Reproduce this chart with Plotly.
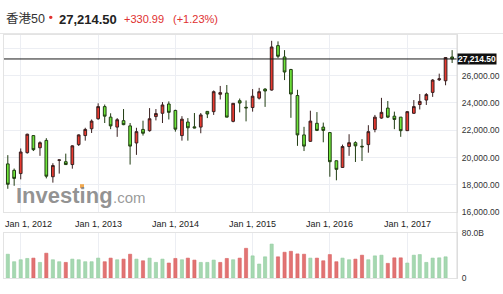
import plotly.graph_objects as go
import pandas as pd

# ---- data (monthly candles, Nov 2011 - Aug 2017) ----
months = pd.date_range("2011-11-01", "2017-08-01", freq="MS")
opens = [19540, 19070, 18830, 20360, 21610, 20720, 21260, 18600, 19800, 19700, 19490, 20950,
         21610, 22110, 22840, 23730, 22960, 22230, 22700, 22320, 21070, 22060, 21970, 23000,
         23240, 23920, 23450, 21610, 22600, 22250, 22230, 23380, 23360, 24630, 24720, 22650,
         24160, 23680, 23660, 24350, 25010, 24940, 28190, 27360, 26440, 24540, 21660, 21190,
         22510, 22230, 21830, 19770, 19280, 20810, 21090, 20830, 20950, 22060, 22890, 23620,
         23030, 22960, 21970, 23240, 23880, 24210, 24770, 25690, 25620, 27360]
highs = [20180, 19200, 20670, 21750, 21640, 21190, 21420, 19590, 19850, 20290, 20900, 21700,
         22180, 22790, 23970, 23880, 23240, 22890, 23550, 22530, 22180, 22700, 23620, 23550,
         24060, 24110, 23500, 23030, 22890, 23260, 23260, 23400, 24910, 25240, 25310, 23990,
         24320, 24180, 25010, 25100, 25080, 28540, 28500, 27860, 26490, 24960, 22250, 23430,
         23330, 22560, 21840, 19780, 20950, 21710, 21190, 21350, 22370, 23120, 24370, 24140,
         23360, 22970, 23400, 24210, 24650, 24720, 25740, 26140, 27330, 27860]
lows = [17720, 17940, 18410, 20290, 20480, 20130, 18480, 18170, 18830, 19480, 19190, 20850,
        21240, 21800, 22770, 22530, 22080, 21520, 22370, 19490, 20200, 21610, 21900, 22720,
        22530, 22790, 21900, 21240, 21240, 22150, 21780, 22890, 23120, 24250, 22950, 22580,
        23310, 22650, 23360, 24250, 23710, 24900, 27270, 25670, 22910, 20860, 20480, 21150,
        21940, 21120, 18600, 18340, 19270, 20130, 19680, 19750, 20360, 21850, 22840, 22890,
        22080, 21520, 21960, 23190, 23520, 23850, 24440, 25600, 25290, 26920]
closes = [18050, 18480, 20410, 21710, 20580, 21090, 18640, 19420, 19830, 19490, 20860, 21660,
          22060, 22670, 23730, 23030, 22320, 22770, 22410, 20840, 21900, 21780, 22840, 23220,
          23850, 23310, 22080, 22810, 22180, 22170, 23120, 23190, 24820, 24750, 22960, 23970,
          23990, 23640, 24490, 24820, 24870, 28090, 27410, 26260, 24650, 21660, 20840, 22670,
          21990, 21990, 19700, 19140, 20810, 21090, 20860, 20790, 21900, 22960, 23310, 22960,
          22790, 21970, 23360, 23730, 24110, 24610, 25670, 25760, 27320, 27214.50]
# volume in billions (no bar yet for the last month)
volume_b = [42.3, 29.0, 32.5, 34.8, 35.4, 27.8, 44.1, 32.5, 29.0, 27.8, 33.6, 32.5,
            29.0, 29.0, 35.4, 29.0, 35.4, 32.5, 33.6, 42.3, 33.6, 30.7, 35.4, 27.8,
            33.6, 26.7, 34.8, 32.5, 35.4, 31.9, 27.8, 27.8, 31.9, 27.8, 34.8, 32.5,
            35.4, 52.8, 39.4, 24.9, 37.7, 60.3, 37.7, 45.8, 47.5, 42.9, 42.3, 35.4,
            35.4, 30.7, 41.7, 29.0, 35.4, 32.5, 33.6, 40.6, 32.5, 39.4, 40.6, 26.1,
            35.9, 35.9, 26.7, 40.6, 41.7, 27.8, 35.4, 35.9, 37.7]
volume_color = "GGGGRGRGGRGGGGGRRGRRGRGGGRRGRRGGGRRGRR" + "GGGGRRRRRGRRRRGGRRGGGRRRGGGGGGG"
year_ticks = ["2012-01-01", "2013-01-01", "2014-01-01", "2015-01-01", "2016-01-01", "2017-01-01"]
price_ticks = [16000, 18000, 20000, 22000, 24000, 26000, 28000]
price_labels = ["16,000.00", "18,000.00", "20,000.00", "22,000.00", "24,000.00", "26,000.00", ""]
vol_ticks = [0, 80]
vol_labels = ["0", "80.0B"]
title_name = "香港50"
change_abs = "+330.99"
change_pct = "(+1.23%)"

W, H = 503, 294
def px_x(v): return v / W
def px_y(v): return (H - v) / H

UP_FILL, UP_LINE = "#e8392f", "#3a2020"
DN_FILL, DN_LINE = "#6ee53a", "#203d12"
GRID = "#eceef3"
FONT = "Liberation Sans, Arial, sans-serif"

fig = go.Figure()
fig.add_trace(go.Candlestick(
    x=months, open=opens, high=highs, low=lows, close=closes,
    increasing=dict(fillcolor=UP_FILL, line=dict(color=UP_LINE, width=1)),
    decreasing=dict(fillcolor=DN_FILL, line=dict(color=DN_LINE, width=1)),
    whiskerwidth=0, xaxis="x", yaxis="y", showlegend=False, hoverinfo="skip"))

vol_fill = ["#e27373" if c == "R" else "#a6d8b1" for c in volume_color]
vol_line = ["#d86262" if c == "R" else "#92cc9f" for c in volume_color]
fig.add_trace(go.Bar(
    x=months[:len(volume_b)], y=volume_b, width=15 * 86400000,
    marker=dict(color=vol_fill, line=dict(color=vol_line, width=0.6)),
    xaxis="x2", yaxis="y2", showlegend=False, hoverinfo="skip"))

xrange = ["2011-10-14", "2017-08-24"]
xdom = [px_x(4), px_x(457)]
fig.update_layout(
    width=W, height=H, margin=dict(l=0, r=0, t=0, b=0),
    paper_bgcolor="white", plot_bgcolor="white",
    font=dict(family=FONT, size=9, color="#333"),
    boxgap=0.35,
    xaxis=dict(domain=xdom, range=xrange, type="date", tickvals=year_ticks,
               showticklabels=False, showgrid=True, gridcolor=GRID, gridwidth=1,
               zeroline=False, showline=True, linecolor="#e3e3e3", mirror=True,
               rangeslider=dict(visible=False), fixedrange=True),
    yaxis=dict(domain=[px_y(214.6), px_y(31)], range=[16000, 28970], side="right",
               tickvals=price_ticks, ticktext=price_labels, showgrid=True, gridcolor=GRID,
               zeroline=False, showline=True, linecolor="#e3e3e3", mirror=True,
               ticks="", tickfont=dict(size=8.5, color="#333"), ticklabelstandoff=2),
    xaxis2=dict(domain=xdom, range=xrange, type="date", tickvals=year_ticks, matches="x",
                showticklabels=False, showgrid=True, gridcolor=GRID, zeroline=False,
                showline=True, linecolor="#e3e3e3", mirror=True, anchor="y2"),
    yaxis2=dict(domain=[px_y(282.7), px_y(236)], range=[0, 80], side="right",
                tickvals=vol_ticks, ticktext=vol_labels, showgrid=False, zeroline=False,
                showline=True, linecolor="#e3e3e3", mirror=True, ticks="",
                tickfont=dict(size=8.5, color="#333"), anchor="x2", ticklabelstandoff=2),
)

# current price line and label
last = closes[-1]
fig.add_shape(type="line", xref="x", yref="y", x0=xrange[0], x1=xrange[1], y0=last, y1=last,
              line=dict(color="#1a1a1a", width=1))
fig.add_annotation(xref="paper", yref="y", x=px_x(457), y=last, xanchor="left", yanchor="middle",
                   text=f"<b>{last:,.2f}</b>", showarrow=False, bgcolor="#111", borderpad=0,
                   font=dict(size=8.5, color="white", family=FONT))
# right border
fig.add_shape(type="line", xref="paper", yref="paper", x0=px_x(457), x1=px_x(457),
              y0=px_y(283), y1=px_y(31), line=dict(color="#d8d8d8", width=1))

# date labels
for i, t in enumerate(year_ticks):
    d = pd.Timestamp(t)
    fig.add_annotation(xref="x", yref="paper", x=t, y=px_y(226.5), yanchor="middle",
                       text=f"{d:%b} {d.day}, {d.year}", showarrow=False,
                       xshift=7.5 if i == 0 else 0,
                       font=dict(size=9, color="#222", family=FONT))

# watermark
fig.add_annotation(xref="paper", yref="paper", x=px_x(14), y=px_y(197), xanchor="left",
                   yanchor="middle", text="<b>Investing</b>", showarrow=False,
                   font=dict(size=22, color="rgba(128,128,128,0.85)", family=FONT))
fig.add_annotation(xref="paper", yref="paper", x=px_x(111), y=px_y(199), xanchor="left",
                   yanchor="middle", text=".com", showarrow=False,
                   font=dict(size=15, color="rgba(135,135,135,0.85)", family=FONT))
fig.add_shape(type="rect", xref="paper", yref="paper", x0=px_x(80), x1=px_x(84),
              y0=px_y(189.5), y1=px_y(185.5), fillcolor="rgba(240,160,60,0.9)",
              line=dict(width=0))

# header
fig.add_shape(type="line", xref="paper", yref="paper", x0=0, x1=1, y0=px_y(29.5), y1=px_y(29.5),
              line=dict(color="#e6e6e6", width=1))
fig.add_annotation(xref="paper", yref="paper", x=px_x(4), y=px_y(15), xanchor="left",
                   yanchor="middle", text=title_name, showarrow=False,
                   font=dict(size=12.5, color="#333", family="Liberation Sans, Noto Sans CJK SC"))
fig.add_shape(type="circle", xref="paper", yref="paper", x0=px_x(49), x1=px_x(52.5),
              y0=px_y(14.5), y1=px_y(11), fillcolor="#e03030", line=dict(width=0))
fig.add_annotation(xref="paper", yref="paper", x=px_x(57), y=px_y(15), xanchor="left",
                   yanchor="middle", text=f"<b>{last:,.2f}</b>", showarrow=False,
                   font=dict(size=13, color="#222", family=FONT))
fig.add_annotation(xref="paper", yref="paper", x=px_x(122), y=px_y(15), xanchor="left",
                   yanchor="middle", text=change_abs, showarrow=False,
                   font=dict(size=11, color="#e03030", family=FONT))
fig.add_annotation(xref="paper", yref="paper", x=px_x(171), y=px_y(15), xanchor="left",
                   yanchor="middle", text=change_pct, showarrow=False,
                   font=dict(size=11, color="#e03030", family=FONT))

fig.write_html("out.html", config={"displayModeBar": False})
